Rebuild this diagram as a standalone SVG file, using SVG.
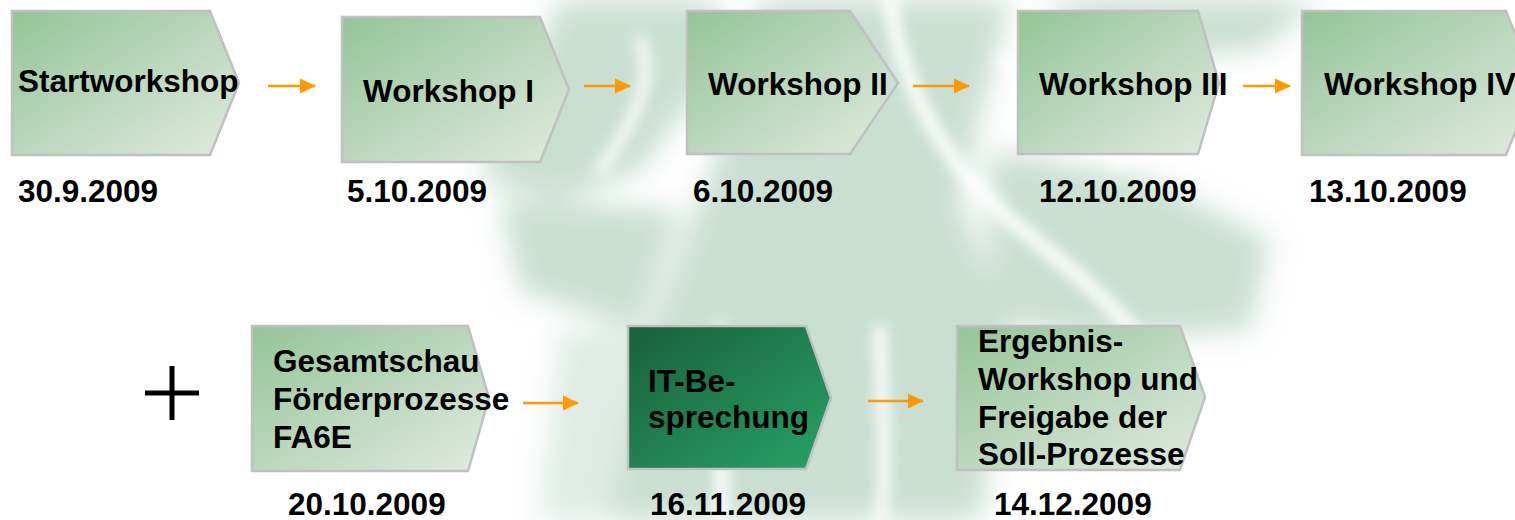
<svg xmlns="http://www.w3.org/2000/svg" width="1515" height="520" viewBox="0 0 1515 520">
<defs>
<linearGradient id="gl" x1="0" y1="0" x2="1" y2="1">
<stop offset="0" stop-color="#95c497"/>
<stop offset="1" stop-color="#e0ebe0"/>
</linearGradient>
<linearGradient id="gd" x1="0" y1="0" x2="1" y2="1">
<stop offset="0" stop-color="#195f3c"/>
<stop offset="1" stop-color="#28a266"/>
</linearGradient>
<filter id="blur" x="-20%" y="-20%" width="140%" height="140%"><feGaussianBlur stdDeviation="14"/></filter>
<filter id="blur2" x="-20%" y="-20%" width="140%" height="140%"><feGaussianBlur stdDeviation="7"/></filter>
<marker id="ah" viewBox="0 0 16 16" refX="15" refY="8" markerWidth="16" markerHeight="16" markerUnits="userSpaceOnUse" orient="auto">
<path d="M0,0.5 L16,8 L0,15.5 Z" fill="#FF9900"/>
</marker>
<style>
.box{stroke:#c0c0c0;stroke-width:2.5}
.light{fill:url(#gl)}
.dark{fill:url(#gd)}
.lbl{font-family:"Liberation Sans",Arial,sans-serif;font-weight:bold;font-size:31.5px;fill:#000}
.con{stroke:#FF9900;stroke-width:2.6;fill:none;marker-end:url(#ah)}
</style>
</defs>
<rect width="1515" height="520" fill="#ffffff"/>
<g id="watermark">
<g filter="url(#blur)" fill="#c9dfd2">
<path d="M560,0 L720,0 L700,90 L640,170 L560,200 L480,180 L520,90 Z"/>
<path d="M760,0 L1010,0 L980,120 L960,200 L1010,330 L980,520 L610,520 L650,330 L700,200 L740,90 Z"/>
<path d="M990,150 L1150,180 L1270,240 L1250,330 L1100,340 L990,320 Z"/>
<path d="M1040,0 L1320,0 L1260,50 L1120,60 Z"/>
<path d="M500,200 L680,210 L640,330 L520,290 Z"/>
<path d="M560,330 L640,330 L620,520 L540,520 Z" opacity="0.6"/>
</g>
<g filter="url(#blur2)" stroke="#ffffff" fill="none" stroke-linecap="round">
<path d="M890,0 C900,80 940,160 1010,220 C1060,260 1110,300 1140,340" stroke-width="14"/>
<path d="M720,330 C700,380 730,450 720,520" stroke-width="14"/>
<path d="M880,330 C880,400 890,460 880,520" stroke-width="12"/>
<path d="M640,40 C660,90 620,140 600,170" stroke-width="10"/>
<path d="M1000,60 C1060,90 1100,110 1120,160" stroke-width="10"/>
</g>
</g>
<g id="connectors">
<path class="con" d="M268,86 H315"/>
<path class="con" d="M584,86 H630"/>
<path class="con" d="M913,86 H969"/>
<path class="con" d="M1243,86 H1290"/>
<path class="con" d="M523,403 H578"/>
<path class="con" d="M868,401 H923"/>
</g>
<g id="n1">
<polygon class="box light" points="12,11 210,11 239,83 210,155 12,155"/>
<text class="lbl" x="18" y="92">Startworkshop</text>
<text class="lbl" x="18" y="202">30.9.2009</text>
</g>
<g id="n2">
<polygon class="box light" points="342,17 540,17 569,89.5 540,162 342,162"/>
<text class="lbl" x="363" y="102">Workshop I</text>
<text class="lbl" x="347" y="202">5.10.2009</text>
</g>
<g id="n3">
<polygon class="box light" points="687,11 850,11 898,83 850,154 687,154"/>
<text class="lbl" x="708" y="95">Workshop II</text>
<text class="lbl" x="693" y="202">6.10.2009</text>
</g>
<g id="n4">
<polygon class="box light" points="1018,11 1198,11 1219,83 1198,154 1018,154"/>
<text class="lbl" x="1039" y="95">Workshop III</text>
<text class="lbl" x="1039" y="202">12.10.2009</text>
</g>
<g id="n5">
<polygon class="box light" points="1302,11 1506,11 1535,83 1506,155 1302,155"/>
<text class="lbl" x="1324" y="95">Workshop IV</text>
<text class="lbl" x="1309" y="202">13.10.2009</text>
</g>
<g id="plus">
<path d="M145,393 H199 M172,366 V420" stroke="#000" stroke-width="5" fill="none"/>
</g>
<g id="n6">
<polygon class="box light" points="252,326 468,326 489,398 468,471 252,471"/>
<text class="lbl" x="273" y="372">Gesamtschau</text>
<text class="lbl" x="273" y="410">Förderprozesse</text>
<text class="lbl" x="273" y="448">FA6E</text>
<text class="lbl" x="288" y="515">20.10.2009</text>
</g>
<g id="n7">
<polygon class="box dark" points="628,326 806,326 831,398 806,469 628,469"/>
<text class="lbl" x="648" y="392">IT-Be-</text>
<text class="lbl" x="648" y="428">sprechung</text>
<text class="lbl" x="650" y="515">16.11.2009</text>
</g>
<g id="n8">
<polygon class="box light" points="957,326 1180,326 1205,397 1180,470 957,470"/>
<text class="lbl" x="978" y="352">Ergebnis-</text>
<text class="lbl" x="978" y="390">Workshop und</text>
<text class="lbl" x="978" y="428">Freigabe der</text>
<text class="lbl" x="978" y="465">Soll-Prozesse</text>
<text class="lbl" x="994" y="515">14.12.2009</text>
</g>
</svg>
